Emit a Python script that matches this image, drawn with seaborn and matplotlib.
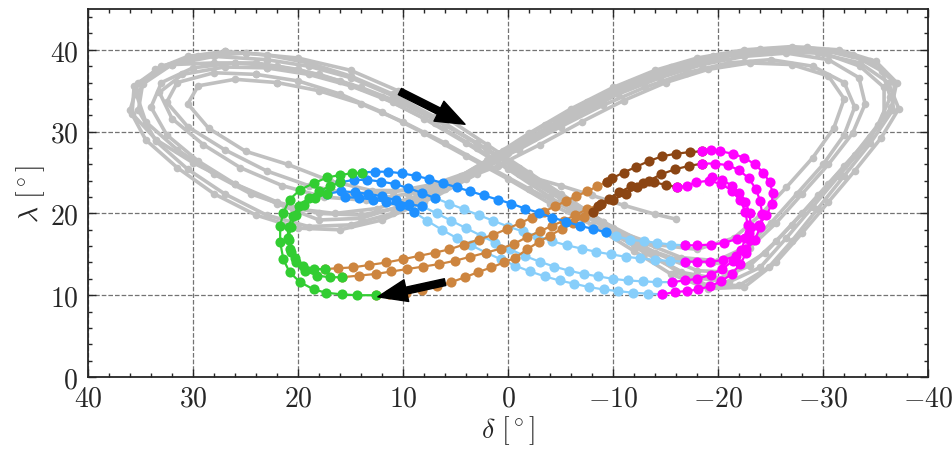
import numpy as np
import matplotlib
matplotlib.use('Agg')
import matplotlib.pyplot as plt
import seaborn as sns

sns.set_style('ticks')
plt.rcParams['font.family'] = 'serif'
plt.rcParams['font.serif'] = ['cmr10', 'DejaVu Serif']
plt.rcParams['mathtext.fontset'] = 'cm'
plt.rcParams['axes.formatter.use_mathtext'] = True
plt.rcParams['font.size'] = 20

# gray background trajectories (delta, lambda) in degrees
gray_1 = [(25,39.6),(20,39),(15,37.5),(10.5,35),(6,31.8),(2,28.4),(-2,25),(-6,21.6),(-10,18.2),(-14,15.2),
          (-18,13),(-21.5,12.8),(-24.5,15.2),(-27,18.6),(-29.5,22.2),(-32,25.8),(-34.5,29.4),(-36.5,33),(-37,36),
          (-35,38.6),(-31.5,40),(-27,40.4),(-22.5,40),(-18,39),(-14,37.5),(-10,35.4),(-6,32.8),(-2,29.8),(2,26.5),
          (6,23.4),(10,21),(14,19.4),(18,19.2),(22,21.2),(26,23.6),(30,26.2),(33.5,29),(35.8,32.2),(35.6,35.6),
          (33,38),(29.5,39.2),(25,39.6)]
gray_2 = [(24,37),(20,36.2),(16,34.6),(12,32.4),(8,29.8),(4,27),(0,24.2),(-4,21.2),(-8,18.6),(-12,16.2),
          (-16,14.4),(-19.5,14),(-22.5,15.8),(-25,18.8),(-27.5,22.4),(-30,26),(-32,29.6),(-33,33),(-32,36),
          (-29,38),(-25,38.8),(-21,38.4),(-17,37.2),(-13,35.4),(-9,33.2),(-5,30.6),(-1,27.8),(3,25.4),(7,23.6),
          (11,22.6),(15,22.4),(19,23.4),(23,25.2),(27,27.8),(30.5,30.6),(32.5,33.6),(31.5,36),(28,37.2),(24,37)]
gray_3 = [(26,38.4),(22,38),(18,37),(14,35.4),(10,33.4),(6,30.8),(2,27.8),(-2,24.6),(-6,21.2),(-10,17.8),
          (-14,14.6),(-17.5,12.2),(-21,11.6),(-24,13.4),(-26.5,17),(-29,20.8),(-31.5,24.6),(-34,28.4),(-35.8,32),
          (-35.8,35.4),(-33.5,38),(-30,39.6),(-26,40),(-22,39.6),(-18,38.6),(-14,37),(-10,34.8),(-6,32.2),
          (-2,29.2),(2,26),(6,23),(10,20.8),(14,19.8),(18,20),(22,21.4),(26,23.6),(29.5,26.4),(32.5,29.6),
          (34,33),(33,36),(30,37.8),(26,38.4)]
gray_4 = [(23,38.8),(19,38),(15,36.6),(11,34.4),(7,31.6),(3,28.6),(-1,25.6),(-5,22.4),(-9,19),(-13,15.6),
          (-16,13),(-19,11.2),(-22,11.2),(-24.8,13.4),(-27,16.6),(-29.5,20.6),(-32,24.6),(-34.5,28.6),(-36.6,32.6),
          (-36.8,36),(-34.5,38.6),(-30.5,39.8),(-26,40),(-21.5,39.4),(-17,38),(-13,36.2),(-9,33.8),(-5,31),
          (-1,28),(3,24.8),(7,22),(11,20),(15,18.6),(19,18.4),(23,19.8),(27,22.4),(30.5,25.4),(33.5,28.8),
          (35.2,32.6),(34.8,35.8),(32,38.2),(28,39.2),(23,38.8)]
gray_5 = [(22,36),(18,35),(14,33.4),(10,31.2),(6,28.6),(2,25.8),(-2,23),(-6,20.4),(-10,18),(-14,16.2),
          (-18,15.6),(-21.5,17),(-24,19.8),(-26.5,23.2),(-29,26.8),(-31,30.4),(-32,34),(-30.5,36.8),(-27,38.2),
          (-23,38.4),(-19,37.6),(-15,36),(-11,33.8),(-7,31.2),(-3,28.4),(1,25.8),(5,23.8),(9,22.8),(13,22.8),
          (17,24),(21,26),(25,27.6),(28.5,30.4),(30.5,33.4),(29.5,35.6),(26,36.4),(22,36)]
gray_6 = [(27,39.8),(23,39.4),(19,38.4),(15,36.8),(11,34.6),(7,31.8),(3,28.6),(-1,25.2),(-5,21.8),(-9,18.4),
          (-13,15.2),(-16.5,12.8),(-20,12),(-23,13.6),(-25.5,16.6),(-28,20),(-30.5,23.6),(-33,27.2),(-35.2,30.8),
          (-36.4,34.2),(-35.6,37.4),(-32.8,39.4),(-28.5,40.3),(-24,40.1),(-19.5,39.3),(-15.5,37.9),(-11.5,36),
          (-7.5,33.6),(-3.5,30.8),(0.5,27.6),(4.5,24.6),(8.5,22.2),(12.5,20.6),(16.5,20),(20.5,20.6),(24.5,22.4),
          (28,24.8),(31.5,27.8),(34.5,31.2),(35.4,34.6),(33.6,37.6),(30.5,39.2),(27,39.8)]
gray_7 = [(23,37.8),(19,37),(15,35.6),(11,33.6),(7,31),(3,28),(-1,24.8),(-5,21.8),(-9,19),(-13,16.4),
          (-16.5,14.6),(-20,14.2),(-23,15.8),(-25.5,18.8),(-28,22.4),(-30.5,26),(-32.8,29.8),(-34,33.4),
          (-33.4,36.6),(-30.5,38.8),(-26.5,39.6),(-22.5,39.2),(-18.5,38.2),(-14.5,36.6),(-10.5,34.6),(-6.5,32),
          (-2.5,29.2),(1.5,26.4),(5.5,24),(9.5,22.4),(13.5,21.6),(17.5,22),(21.5,23.4),(25.5,25.6),(29,28.4),
          (32,31.6),(33.2,34.8),(31,37),(27,37.9),(23,37.8)]
gray_8 = [(28,38.4),(24,38.4),(20,37.6),(16,36.2),(12,34.2),(8,31.6),(4,28.6),(0,25.4),(-4,22),(-8,18.6),
          (-12,15.4),(-15.5,12.6),(-19,10.8),(-22.5,11),(-25.5,14),(-28,17.6),(-30.5,21.4),(-33,25.2),(-35.5,29.2),
          (-37.2,32.8),(-36.2,36),(-33.5,38.4),(-29.5,39.6),(-25,39.8),(-20.5,39.2),(-16,37.7),(-12,35.8),
          (-8,33.4),(-4,30.6),(0,27.4),(4,24.2),(8,21.4),(12,19.2),(16,18),(20,18.2),(24,19.8),(28,22.4),
          (31.5,25.6),(34.5,29),(36,32.6),(35.2,36),(32,38.2),(28,38.4)]
gray_9 = [(-2,24.5),(-5,23.4),(-8,22.2),(-11,21),(-14,19.9),(-16,19.3)]

# coloured passes
green = [
    [(12.6,10),(14.4,10),(15.8,10.1),(17.3,10.3),(18.5,10.7),(19.8,11.6),(20.8,12.8),(21.4,14.4),(21.7,16.5),
     (21.7,18.5),(21.4,20.1),(20.8,21.7),(19.8,22.9),(18.5,23.7),(17.2,24.4),(16,24.7),(14.9,24.9),(13.9,25)],
    [(17.4,13.2),(18.5,13.2),(19.5,13.6),(20.3,14.5),(20.8,15.7),(21,17),(20.9,18.4),(20.5,19.7),(19.9,20.9),
     (19,21.9),(18,22.7),(17,23.3),(16,23.8)],
    [(15.8,12.2),(17,12.2),(18.2,12.4),(19.3,13),(20.2,14),(20.7,15.3),(20.9,16.8),(20.7,18.4),(20.2,19.8),
     (19.4,21),(18.4,21.9),(17.2,22.4)],
]
blue = [
    [(13.9,25),(12.7,25.1),(11.4,25.1),(10.1,24.9),(8.8,24.6),(7.5,24.2),(6.2,23.7),(4.9,23.2),(3.6,22.7),
     (2.3,22.2),(1,21.7),(-0.3,21.2),(-1.6,20.6),(-2.9,20.1),(-4.2,19.5),(-5.5,19),(-6.8,18.5),(-8.1,18.1),(-9.3,17.7)],
    [(16,23.8),(14.7,24.1),(13.4,24.1),(12.1,23.9),(10.8,23.6),(9.5,23.1),(8.2,22.5),(7,21.9)],
    [(17.2,22.4),(15.9,22.7),(14.6,22.6),(13.3,22.4),(12,22.1),(10.7,21.6),(9.4,21.1),(8.2,20.9)],
    [(15.5,22),(14.2,21.9),(12.9,21.7),(11.6,21.4),(10.3,20.9),(9,20.2)],
]
light_blue = [
    [(-9.3,17.7),(-10.3,17.2),(-11.6,16.8),(-12.9,16.6),(-14.2,16.4),(-15.5,16.2),(-16.8,16.1)],
    [(7,21.9),(5.6,21.2),(4.2,20.5),(2.8,19.8),(1.4,19.1),(0,18.4),(-1.4,17.8),(-2.8,17.2),(-4.2,16.6),
     (-5.6,16.1),(-7,15.7),(-8.4,15.3),(-9.8,15),(-11.2,14.7),(-12.6,14.5),(-14,14.3),(-15.4,14.2),(-16.8,14.1)],
    [(8.2,20.9),(6.8,20),(5.4,19.1),(4,18.2),(2.6,17.3),(1.2,16.4),(-0.2,15.6),(-1.6,14.8),(-3,14.1),
     (-4.4,13.5),(-5.8,13),(-7.2,12.6),(-8.6,12.3),(-10,12),(-11.4,11.8),(-12.8,11.7),(-14.2,11.6),(-15.6,11.6)],
    [(9,20.2),(7.7,19.1),(6.3,18),(4.9,17),(3.5,16.1),(2.1,15.2),(0.7,14.4),(-0.7,13.6),(-2.1,12.9),
     (-3.5,12.3),(-4.9,11.8),(-6.3,11.4),(-7.7,11),(-9.1,10.7),(-10.5,10.5),(-11.9,10.3),(-13.3,10.2),(-14.7,10.1)],
]
magenta = [
    [(-16.8,16.1),(-18,16.1),(-19.3,16.2),(-20.6,16.4),(-21.8,16.9),(-22.9,17.6),(-23.9,18.6),(-24.6,19.8),
     (-25.1,21.1),(-25.2,22.5),(-24.9,23.8),(-24.3,25),(-23.5,26),(-22.5,26.8),(-21.4,27.3),(-20.2,27.6),
     (-19.3,27.7),(-18.5,27.6)],
    [(-16.8,14.1),(-18,14.1),(-19.2,14.1),(-20.5,14.3),(-21.7,14.8),(-22.7,15.6),(-23.5,16.8),(-24,18.3),
     (-24.2,19.9),(-24,21.5),(-23.6,23),(-22.9,24.3),(-22,25.3),(-20.9,25.9),(-19.7,26.1),(-18.5,26.1)],
    [(-15.6,11.6),(-16.8,11.8),(-18,12),(-19.3,12.5),(-20.4,13.2),(-21.4,14.2),(-22.2,15.5),(-22.6,17),
     (-22.8,18.6),(-22.6,20.2),(-22.1,21.6),(-21.3,22.8),(-20.3,23.6),(-19.1,24),(-17.9,23.8),(-17,23.4),(-16.1,23.2)],
    [(-14.7,10.1),(-15.9,10.4),(-17,10.5),(-18.1,10.7),(-19.2,11.1),(-20.3,11.7),(-21.3,12.6),(-22.1,13.8),
     (-22.7,15.2),(-23,16.8),(-23.1,18.4),(-23,20),(-22.6,21.4),(-22,22.5),(-21.3,23.4),(-20.4,24.1),(-19.4,24.5)],
]
brown = [
    [(-18.5,27.6),(-17.3,27.5),(-16,27.3),(-14.7,27),(-13.4,26.4),(-12.2,25.7),(-11,25),(-9.9,24.3),(-9.4,23.9)],
    [(-18.5,26.1),(-17.2,25.8),(-15.9,25.4),(-14.6,24.8),(-13.4,24),(-12.3,23.2),(-11.2,22.4),(-10,21.7),(-8.8,21.1)],
    [(-16.1,23.2),(-15,23.5),(-13.9,23.8),(-12.8,23.7),(-11.7,23.3),(-10.6,22.6),(-9.6,21.8),(-8.6,20.9),(-8.1,20.2)],
]
peru = [
    [(-9.4,23.9),(-8.5,23.3),(-7.5,22.7),(-6.5,22.1),(-5.5,21.5),(-4.5,20.9),(-3.4,20.2),(-2.3,19.5),(-1.1,18.8),
     (0.1,18.1),(1.4,17.4),(2.8,16.8),(4.2,16.2),(5.6,15.6),(7,15.2),(8.5,14.8),(10,14.4),(11.6,14),(13.2,13.7),
     (14.8,13.4),(16.2,13.3),(17.4,13.2)],
    [(-8.8,21.1),(-7.5,20.5),(-6.4,19.8),(-5.3,19.1),(-4.2,18.5),(-3,17.8),(-1.8,17.1),(-0.6,16.3),(0.7,15.7),
     (2.1,15.2),(3.6,14.7),(5.1,14.2),(6.6,13.8),(8.1,13.5),(9.6,13.2),(11.1,12.9),(12.6,12.6),(14.2,12.4),(15.8,12.2)],
    [(-8.1,20.2),(-7.2,19.6),(-6.2,18.8),(-5.1,18.1),(-4,17.3),(-2.9,16.5),(-1.8,15.6),(-0.7,14.6),(0.4,14),
     (1.6,13.4),(2.9,12.8),(4.1,12.2),(5.4,11.6),(6.8,11.1),(8.2,10.6),(9.7,10.3),(11.3,10.1),(12.6,10)],
]

# arrows: (tail, tip)
arrow_top = [(10.3, 34.9), (4.1, 30.9)]
arrow_bottom = [(6.0, 11.6), (12.4, 9.8)]

fig, ax = plt.subplots(figsize=(9.52, 4.52), dpi=100)
fig.subplots_adjust(left=0.0924, right=0.975, top=0.978, bottom=0.1637)


def draw(strands, color, ms, lw, z):
    for s in strands:
        a = np.array(s)
        sns.lineplot(x=a[:, 0], y=a[:, 1], sort=False, estimator=None, color=color,
                     lw=lw, marker='o', markersize=ms, markeredgewidth=0, ax=ax, zorder=z)


draw([gray_1, gray_2, gray_3, gray_4, gray_5, gray_6, gray_7, gray_8, gray_9], '#c0c0c0', 5.5, 2.6, 2)
draw(light_blue, 'lightskyblue', 7.3, 1.6, 3)
draw(peru, 'peru', 7.3, 1.6, 3)
draw(blue, 'dodgerblue', 7.3, 1.6, 4)
draw(brown, 'saddlebrown', 7.3, 1.6, 4)
draw(green, 'limegreen', 7.3, 1.6, 4)
draw(magenta, 'magenta', 7.3, 1.6, 4)

for tail, tip in [arrow_top, arrow_bottom]:
    ax.annotate('', xy=tip, xytext=tail,
                arrowprops=dict(facecolor='k', edgecolor='k', width=5, headwidth=16,
                                headlength=21, shrink=0), zorder=6)

ax.set_xlim(40, -40)
ax.set_ylim(0, 45)
ax.set_xticks([40, 30, 20, 10, 0, -10, -20, -30, -40])
ax.set_yticks([0, 10, 20, 30, 40])
ax.xaxis.set_minor_locator(matplotlib.ticker.MultipleLocator(2))
ax.yaxis.set_minor_locator(matplotlib.ticker.MultipleLocator(2))
ax.tick_params(which='both', direction='in', top=True, right=True, width=1)
ax.tick_params(which='major', length=6)
ax.tick_params(which='minor', length=3.2)
ax.tick_params(axis='x', pad=6)
ax.tick_params(axis='y', pad=7)
ax.grid(True, which='major', ls='--', color='0.45', lw=0.9)
ax.set_axisbelow(True)
for sp in ax.spines.values():
    sp.set_linewidth(1.3)
ax.set_xlabel(r'$\delta\ [^\circ]$', labelpad=1)
ax.set_ylabel(r'$\lambda\ [^\circ]$', labelpad=2)
plt.savefig('out.png', dpi=100)
